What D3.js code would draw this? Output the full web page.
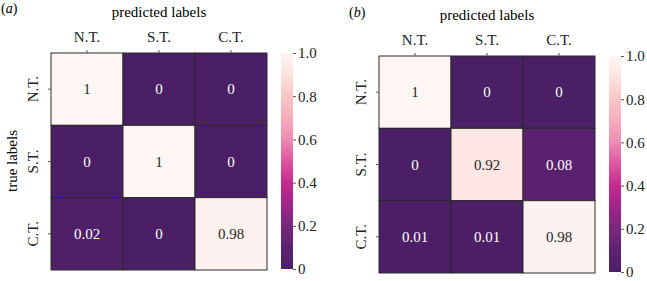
<!DOCTYPE html>
<html>
<head>
<meta charset="utf-8">
<script src="https://cdn.jsdelivr.net/npm/d3@7"></script>
<style>
  body { margin: 0; background: #fff; }
  svg { font-family: "Liberation Serif", "DejaVu Serif", serif; }
</style>
</head>
<body>
<div id="chart"></div>
<script>
// confusion matrices, rows = true label, cols = predicted label
const labels = ["N.T.", "S.T.", "C.T."];
const matrixA = [[1, 0, 0], [0, 1, 0], [0.02, 0, 0.98]];
const matrixB = [[1, 0, 0], [0, 0.92, 0.08], [0.01, 0.01, 0.98]];
const cbTicks = [0, 0.2, 0.4, 0.6, 0.8, 1.0];

const width = 647, height = 281;

// RdPu-like ramp, a bit muted like the picture
const color = d3.scaleLinear()
  .domain([0, 0.1, 0.2, 0.3, 0.4, 0.5, 0.6, 0.7, 0.8, 0.9, 1])
  .range(["#4a1f66", "#5e2271", "#7a277c", "#a0258a", "#c42a8e", "#e0559f",
          "#ee8bb2", "#f6acbd", "#f9c6c4", "#fde2df", "#fdf6f3"]);

const svg = d3.select("#chart").append("svg")
  .attr("width", width)
  .attr("height", height);

const defs = svg.append("defs");
const grad = defs.append("linearGradient")
  .attr("id", "cb").attr("x1", 0).attr("y1", 1).attr("x2", 0).attr("y2", 0);
d3.range(0, 1.001, 0.05).forEach(t => {
  grad.append("stop").attr("offset", t).attr("stop-color", color(t));
});

function drawPanel(opt) {
  const g = svg.append("g");
  const x = d3.scaleBand().domain(labels).range([opt.left, opt.left + 216]);
  const y = d3.scaleBand().domain(labels).range([opt.top, opt.top + 217]);

  // panel letter
  const tag = g.append("text").attr("x", opt.tagX).attr("y", opt.tagY)
    .style("font-size", "14px");
  tag.append("tspan").text("(");
  tag.append("tspan").style("font-style", "italic").text(opt.tag);
  tag.append("tspan").text(")");

  g.append("text")
    .attr("x", opt.left + 108).attr("y", opt.top - 36)
    .attr("text-anchor", "middle")
    .style("font-size", "15px")
    .text("predicted labels");

  // cells
  opt.data.forEach((row, i) => {
    row.forEach((v, j) => {
      g.append("rect")
        .attr("x", x(labels[j])).attr("y", y(labels[i]))
        .attr("width", x.bandwidth()).attr("height", y.bandwidth())
        .attr("fill", color(v))
        .attr("stroke", "#2b2b2b").attr("stroke-width", 1);
      g.append("text")
        .attr("x", x(labels[j]) + x.bandwidth() / 2)
        .attr("y", y(labels[i]) + y.bandwidth() / 2)
        .attr("dy", "0.35em")
        .attr("text-anchor", "middle")
        .style("font-size", "15px")
        .attr("fill", v > 0.5 ? "#262626" : "#ffffff")
        .text(v);
    });
  });

  // top axis
  const xa = g.append("g").attr("transform", "translate(0," + opt.top + ")")
    .call(d3.axisTop(x).tickSize(3).tickPadding(8));
  xa.select(".domain").remove();
  xa.selectAll("line").attr("stroke", "#555");
  xa.selectAll("text").attr("fill", "#222").style("font-size", "15px")
    .style("font-family", "Liberation Serif");

  // left axis, rotated labels
  const ya = g.append("g").attr("transform", "translate(" + opt.left + ",0)")
    .call(d3.axisLeft(y).tickSize(3).tickPadding(4));
  ya.select(".domain").remove();
  ya.selectAll("line").attr("stroke", "#555");
  ya.selectAll("text").attr("fill", "#222").style("font-size", "15px")
    .style("font-family", "Liberation Serif")
    .attr("text-anchor", "middle")
    .attr("dy", 0)
    .attr("transform", "translate(-13,0) rotate(-90)")
    .attr("x", 0);

  if (opt.ylabel) {
    g.append("text")
      .attr("transform", "translate(17," + (opt.top + 108) + ") rotate(-90)")
      .attr("text-anchor", "middle")
      .style("font-size", "15px")
      .text("true labels");
  }

  // colorbar
  const cbX = opt.left + 230;
  const cy = d3.scaleLinear().domain([0, 1]).range([opt.top + 216, opt.top]);
  g.append("rect")
    .attr("x", cbX).attr("y", opt.top)
    .attr("width", 12).attr("height", 216)
    .attr("fill", "url(#cb)");
  const ca = g.append("g").attr("transform", "translate(" + (cbX + 12) + ",0)")
    .call(d3.axisRight(cy).tickValues(cbTicks).tickSize(3).tickPadding(2)
      .tickFormat(d => d === 0 ? "0" : d.toFixed(1)));
  ca.select(".domain").remove();
  ca.selectAll("line").attr("stroke", "#555");
  ca.selectAll("text").attr("fill", "#222").style("font-size", "15px")
    .style("font-family", "Liberation Serif");
}

drawPanel({ data: matrixA, left: 51, top: 53, tag: "a", tagX: 1, tagY: 13, ylabel: true });
drawPanel({ data: matrixB, left: 379, top: 56, tag: "b", tagX: 349, tagY: 17, ylabel: false });
</script>
</body>
</html>
